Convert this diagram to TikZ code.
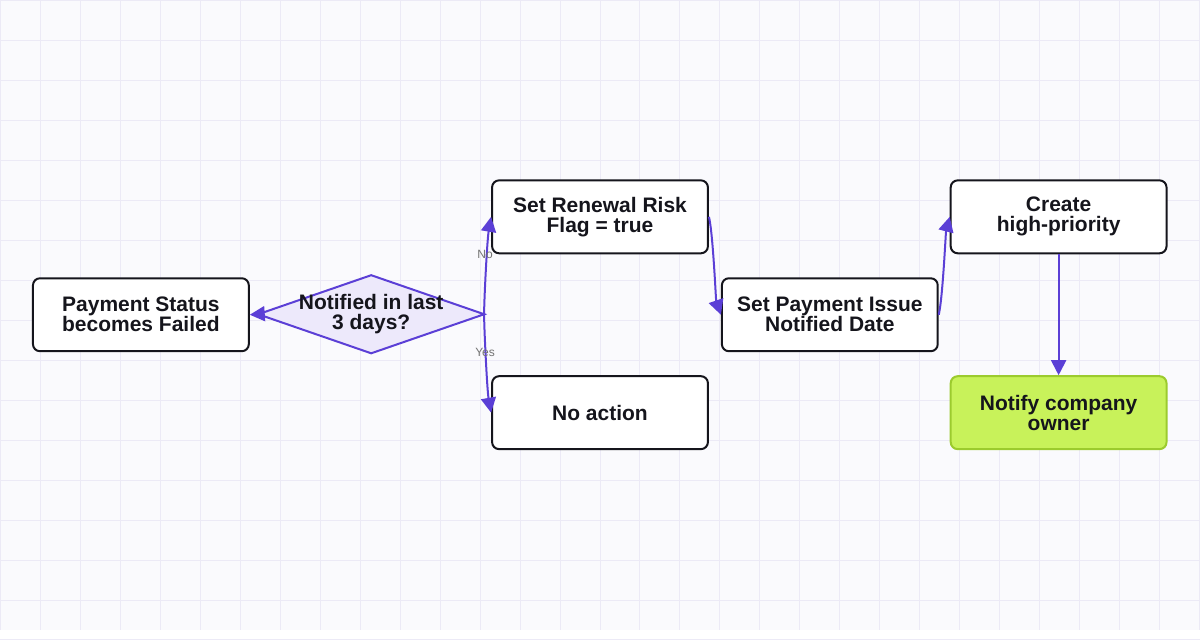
\documentclass[tikz,border=0pt]{standalone}
\usepackage{fontspec}
\setmainfont{Liberation Sans}
\usetikzlibrary{shapes.geometric,arrows.meta}
\definecolor{bg}{HTML}{FAFAFD}
\definecolor{gridc}{HTML}{ECEAF6}
\definecolor{edge}{HTML}{5B3FD6}
\definecolor{dfill}{HTML}{EDE9FB}
\definecolor{gfill}{HTML}{C8F25A}
\definecolor{gline}{HTML}{9CCB2E}
\definecolor{ink}{HTML}{15151C}
\begin{document}
\begin{tikzpicture}[x=1pt,y=-1pt,
  box/.style={draw=ink,line width=2pt,rounded corners=7pt,fill=white,minimum width=216pt,minimum height=73pt,align=center,font=\bfseries\fontsize{21}{20}\selectfont,text=ink,inner sep=0pt},
  conn/.style={draw=edge,line width=2pt,-{Triangle[length=15pt,width=15pt]}},
  lab/.style={font=\fontsize{12}{12}\selectfont,text=gray!90!black}]
\fill[bg] (0,0) rectangle (1200,630);
\foreach \x in {0,40,...,1200} \draw[gridc,line width=1pt] (\x,0) -- (\x,630);
\foreach \y in {0,40,...,640} \draw[gridc,line width=1pt] (0,\y) -- (1200,\y);
\useasboundingbox (0,0) rectangle (1200,630);
\node[box] (a) at (140.5,314.5) {Payment Status\\becomes Failed};
\node[diamond,draw=edge,line width=2pt,fill=dfill,minimum width=227pt,minimum height=79pt,aspect=2.9,inner sep=0pt,align=center,font=\bfseries\fontsize{21}{20}\selectfont,text=ink] (d) at (371,314) {};
\node[align=center,font=\bfseries\fontsize{21}{20}\selectfont,text=ink] at (371,314) {Notified in last\\3 days?};
\node[box] (b) at (600,216.5) {Set Renewal Risk\\Flag = true};
\node[box] (c) at (600,412.5) {No action};
\node[box] (e) at (830,314.5) {Set Payment Issue\\Notified Date};
\node[box] (f) at (1059,216.5) {Create\\high-priority};
\node[box,draw=gline,fill=gfill] (g) at (1059,412.5) {Notify company\\owner};
\coordinate (dr) at (484,314);
\draw[conn] (d.west) -- (a.east);
\draw[conn] (dr) .. controls (484,300) and (487,240) .. (b.west);
\draw[conn] (dr) .. controls (484,328) and (487,390) .. (c.west);
\node[lab] at (485,254) {No};
\node[lab] at (485,352) {Yes};
\draw[conn] (b.east) .. controls (713,232) and (716,300) .. (e.west);
\draw[conn] (e.east) .. controls (943,298) and (946,232) .. (f.west);
\draw[conn] (f.south) -- (g.north);
\end{tikzpicture}
\end{document}
